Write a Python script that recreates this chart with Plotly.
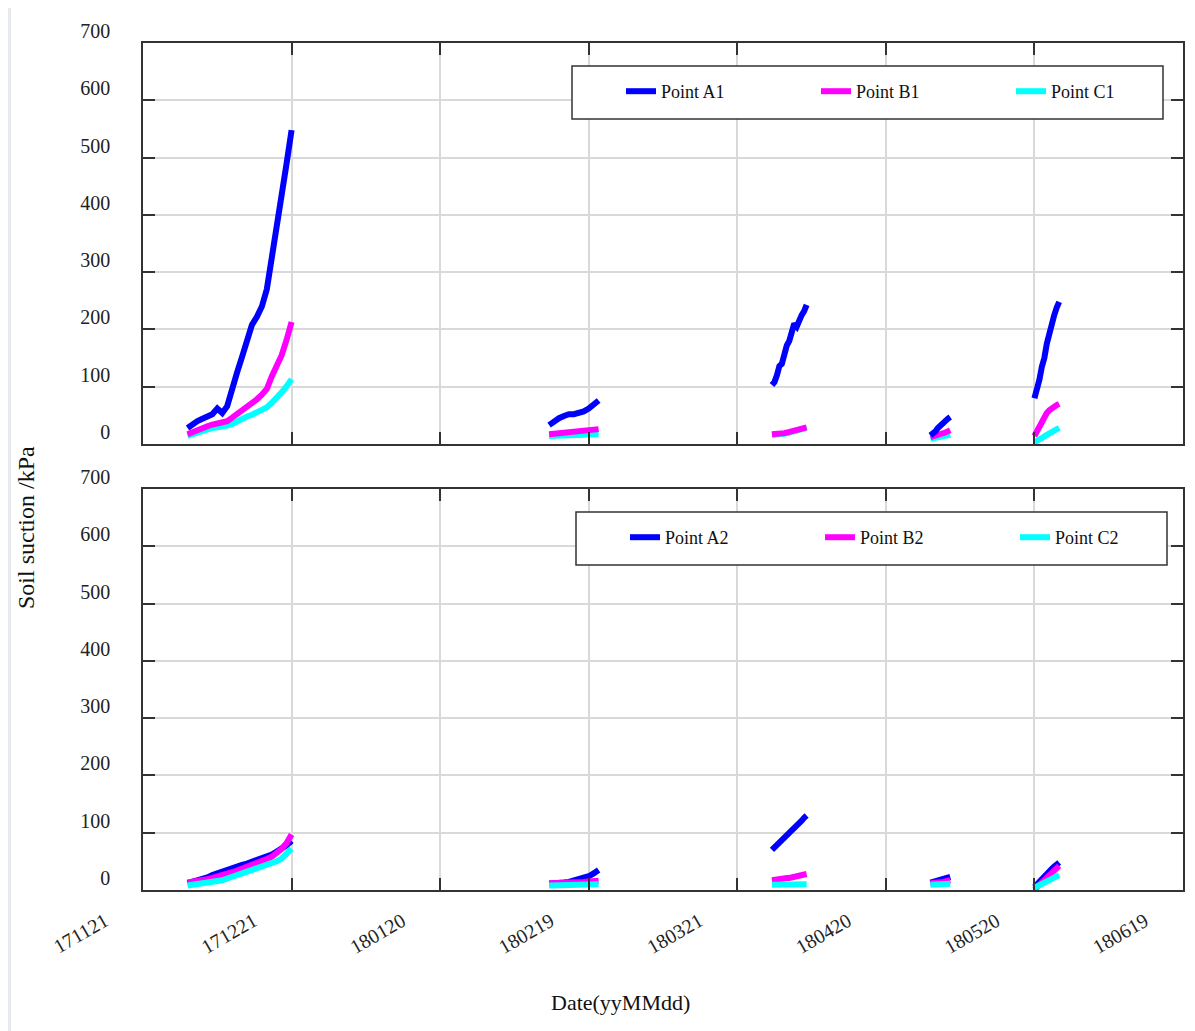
import pandas as pd
import plotly.graph_objects as go

# ---------------- data ----------------
tick_dates = ['2017-11-21', '2017-12-21', '2018-01-20', '2018-02-19',
              '2018-03-21', '2018-04-20', '2018-05-20', '2018-06-19']
tick_labels = ['171121', '171221', '180120', '180219',
               '180321', '180420', '180520', '180619']

seg_starts = ['2017-11-30', '2018-02-11', '2018-03-28', '2018-04-29', '2018-05-20']
seg_step_hours = [24, 24, 12, 12, 12]

# upper panel
A1 = [
    [28, 35, 40, 44, 48, 52, 62, 54, 66, 100, 125, 152, 185, 208, 222, 240, 270, 330, 385, 435, 490, 548],
    [33, 40, 45, 49, 52, 52, 54, 57, 62, 69, 76],
    [103, 108, 120, 136, 140, 158, 172, 180, 198, 210, 205, 218, 225, 232, 243],
    [15, 18, 22, 28, 33, 37, 40, 44, 47],
    [80, 95, 112, 135, 150, 175, 195, 210, 225, 238, 248],
]
B1 = [
    [17, 21, 25, 28, 31, 34, 36, 38, 40, 46, 52, 57, 64, 70, 78, 86, 96, 118, 135, 155, 182, 213],
    [17, 18, 19, 20, 21, 22, 22, 23, 24, 25, 26],
    [17, 17, 18, 18, 19, 19, 20, 21, 22, 23, 24, 25, 26, 27, 29],
    [12, 13, 14, 15, 17, 19, 20, 22, 24],
    [14, 22, 33, 40, 47, 54, 59, 63, 66, 68, 70],
]
C1 = [
    [14, 17, 20, 23, 26, 28, 29, 30, 32, 35, 40, 44, 48, 51, 55, 59, 64, 72, 80, 90, 101, 113],
    [14, 14, 15, 15, 15, 16, 16, 16, 17, 17, 17],
    [16, 16, 17, 17, 18, 18, 19, 20, 21, 22, 23, 24, 25, 26, 28],
    [9, 10, 10, 11, 12, 13, 14, 15, 16],
    [3, 5, 7, 10, 13, 16, 18, 21, 24, 26, 28],
]
# lower panel
A2 = [
    [12, 14, 16, 19, 22, 26, 29, 33, 37, 40, 42, 44, 46, 49, 52, 55, 58, 62, 67, 72, 78, 86],
    [11, 11, 12, 13, 14, 16, 18, 20, 24, 29, 35],
    [70, 74, 79, 84, 89, 93, 97, 101, 105, 109, 113, 117, 121, 126, 130],
    [13, 14, 15, 16, 17, 18, 19, 21, 23],
    [5, 10, 15, 20, 25, 29, 33, 37, 41, 45, 48],
]
B2 = [
    [13, 14, 15, 17, 19, 21, 23, 25, 28, 31, 34, 37, 40, 43, 46, 50, 54, 58, 64, 72, 82, 97],
    [12, 12, 13, 13, 13, 14, 14, 14, 15, 15, 16],
    [17, 18, 18, 19, 19, 20, 21, 21, 22, 23, 24, 25, 26, 27, 28],
    [12, 12, 13, 13, 14, 14, 15, 16, 17],
    [1, 5, 9, 13, 18, 22, 26, 30, 34, 38, 42],
]
C2 = [
    [8, 9, 10, 11, 12, 13, 15, 17, 20, 23, 26, 29, 32, 35, 37, 40, 43, 46, 50, 55, 62, 72],
    [8, 8, 9, 9, 9, 9, 9, 9, 10, 10, 10],
    [9, 9, 9, 9, 9, 9, 9, 9, 10, 10, 10, 10, 10, 10, 10],
    [9, 9, 9, 10, 10, 10, 10, 11, 11],
    [4, 6, 8, 10, 12, 14, 16, 18, 21, 23, 26],
]


def series(segments):
    xs, ys = [], []
    for start, step, vals in zip(seg_starts, seg_step_hours, segments):
        times = pd.date_range(start=start, periods=len(vals), freq=f'{step}h')
        xs += list(times) + [None]
        ys += list(vals) + [None]
    return xs, ys


FONT = 'Liberation Serif, Times New Roman, serif'
BLUE, MAG, CYAN = '#0000FF', '#FF00FF', '#00FFFF'

fig = go.Figure()

top = [('Point C1', C1, CYAN, 3), ('Point B1', B1, MAG, 2), ('Point A1', A1, BLUE, 1)]
for name, segs, col, rank in top:
    x, y = series(segs)
    fig.add_trace(go.Scatter(x=x, y=y, name=name, mode='lines', connectgaps=False,
                             line=dict(color=col, width=6), xaxis='x', yaxis='y',
                             legend='legend', legendrank=rank))

bottom = [('Point A2', A2, BLUE, 1), ('Point B2', B2, MAG, 2), ('Point C2', C2, CYAN, 3)]
for name, segs, col, rank in bottom:
    x, y = series(segs)
    fig.add_trace(go.Scatter(x=x, y=y, name=name, mode='lines', connectgaps=False,
                             line=dict(color=col, width=6), xaxis='x2', yaxis='y2',
                             legend='legend2', legendrank=rank))

# page has an 8px body margin -> figure is drawn from (8, 8)
OFF = 8
W, H = 1195 - OFF, 1031 - OFF
L, R, T, B = 143 - OFF, 12, 43 - OFF, 141
PW, PH = W - L - R, H - T - B


def px_x(p):  # reference-picture pixel -> paper x
    return (p - OFF - L) / PW


def px_y(p):  # reference-picture pixel -> paper y
    return (H - B - (p - OFF)) / PH


axis_common = dict(
    showline=True, linecolor='#333333', linewidth=1.5, mirror='ticks',
    ticks='inside', ticklen=12, tickwidth=1.5, tickcolor='#333333',
    showgrid=True, gridcolor='#d9d9d9', gridwidth=1.5, zeroline=False,
    tickfont=dict(family=FONT, size=20, color='#222222'),
)
xr = [tick_dates[0], tick_dates[-1]]

top_dom = [px_y(444), 1.0]
bot_dom = [0.0, px_y(489)]

legend_common = dict(orientation='h', xanchor='left', yanchor='top',
                     bgcolor='rgba(0,0,0,0)', borderwidth=0, entrywidth=150,
                     entrywidthmode='pixels', traceorder='normal',
                     font=dict(family=FONT, size=18, color='#111111'))

layout = dict(
    width=W, height=H,
    margin=dict(l=L, r=R, t=T, b=B, autoexpand=False),
    paper_bgcolor='white', plot_bgcolor='white',
    showlegend=True,
    xaxis=dict(axis_common, type='date', range=xr, tickvals=tick_dates, ticktext=tick_labels,
               showticklabels=False, anchor='y', domain=[0, 1]),
    yaxis=dict(axis_common, range=[0, 700], dtick=100, domain=top_dom, anchor='x',
               ticklabelshift=-12, ticklabelstandoff=27),
    xaxis2=dict(axis_common, type='date', range=xr, tickvals=tick_dates, ticktext=tick_labels,
                tickangle=-30, anchor='y2', domain=[0, 1],
                ticklabelshift=-38, ticklabelstandoff=10),
    yaxis2=dict(axis_common, range=[0, 700], dtick=100, domain=bot_dom, anchor='x2',
                ticklabelshift=-12, ticklabelstandoff=27),
    legend=dict(legend_common, x=px_x(621), y=px_y(73)),
    legend2=dict(legend_common, x=px_x(625), y=px_y(519)),
    shapes=[
        dict(type='rect', xref='paper', yref='paper', x0=px_x(572), x1=px_x(1163),
             y0=px_y(119), y1=px_y(66), line=dict(color='#333333', width=1.5),
             fillcolor='white', layer='above'),
        dict(type='rect', xref='paper', yref='paper', x0=px_x(576), x1=px_x(1167),
             y0=px_y(565), y1=px_y(512), line=dict(color='#333333', width=1.5),
             fillcolor='white', layer='above'),
        dict(type='rect', xref='paper', yref='paper', x0=px_x(OFF), x1=px_x(11),
             y0=px_y(1031), y1=px_y(OFF), line=dict(width=0), fillcolor='#e6e9ee', layer='below'),
    ],
    annotations=[
        dict(text='Soil suction /kPa', xref='paper', yref='paper', x=px_x(26), y=px_y(528),
             textangle=-90, showarrow=False, xanchor='center', yanchor='middle',
             font=dict(family=FONT, size=24, color='#111111')),
        dict(text='Date(yyMMdd)', xref='paper', yref='paper', x=px_x(620), y=px_y(1002),
             showarrow=False, xanchor='center', yanchor='middle',
             font=dict(family=FONT, size=22, color='#111111')),
    ],
)
fig.update_layout(layout)
fig.write_html('out.html')
